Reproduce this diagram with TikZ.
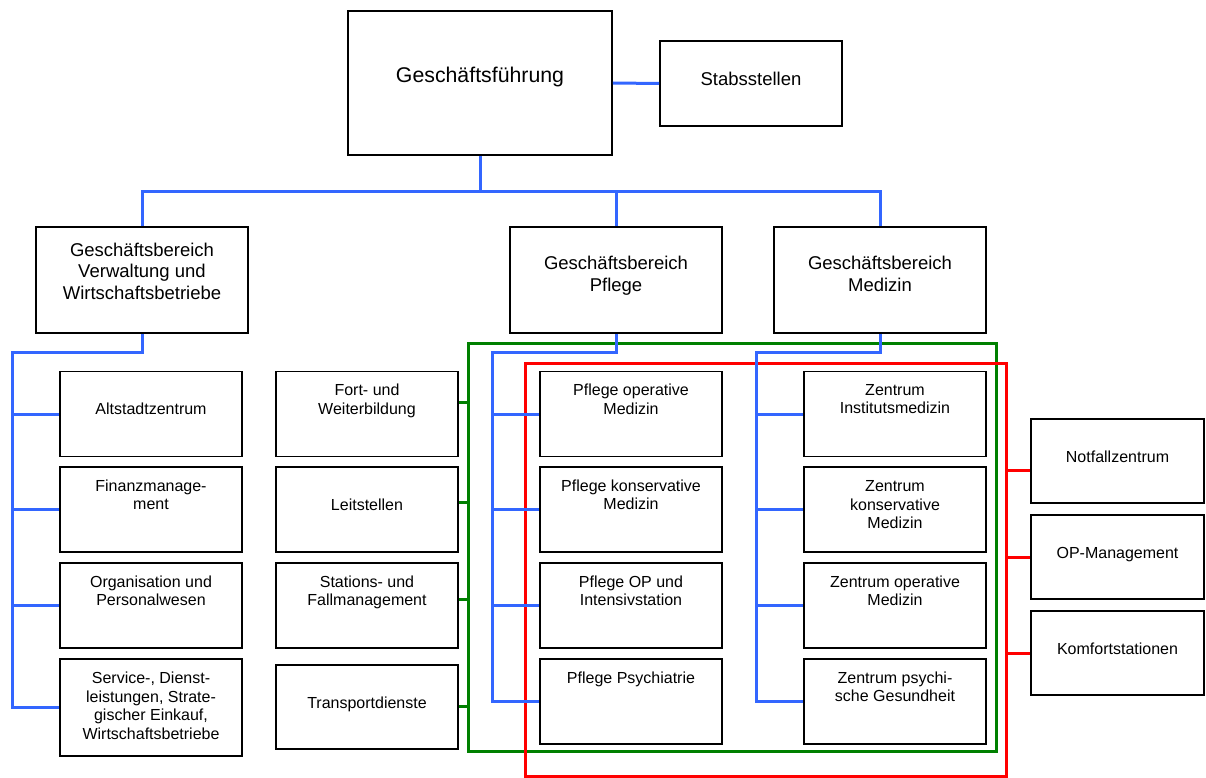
\documentclass[tikz,border=0pt]{standalone}
\usepackage{fontspec}
\setmainfont{Liberation Sans}
\usetikzlibrary{calc}
\definecolor{cblue}{RGB}{51,102,255}
\definecolor{cgreen}{RGB}{0,128,0}
\definecolor{cred}{RGB}{255,0,0}
\newcommand\bt[3]{\node[tS] (#1t) at ($(#1.north)+(0,#2)$) {#3};}
\newcommand\btm[3]{\node[tM] (#1t) at ($(#1.north)+(0,#2)$) {#3};}
\begin{document}
\begin{tikzpicture}[x=1pt,y=-1pt,
  bx/.style={draw=black, line width=1.8pt, fill=white, inner sep=0pt, minimum width=182pt, minimum height=85pt},
  tS/.style={anchor=north, inner sep=0pt, align=center, text=black, font=\fontsize{16}{18.5}\selectfont},
  tM/.style={anchor=north, inner sep=0pt, align=center, text=black, font=\fontsize{18.5}{21.5}\selectfont},
  tL/.style={anchor=north, inner sep=0pt, align=center, text=black, font=\fontsize{21.3}{25}\selectfont},
  bl/.style={draw=cblue, line width=3pt},
  gr/.style={draw=cgreen, line width=3pt},
  rd/.style={draw=cred, line width=3pt},
  frame/.style={line width=3pt, inner sep=0pt, fill=none}]
\useasboundingbox (0,0) rectangle (1206,778);

% frames
\node[frame, draw=cgreen, minimum width=528pt, minimum height=408pt] (gfr) at (732,547) {};
\node[frame, draw=cred, minimum width=481pt, minimum height=413pt] (rfr) at (765.5,569.5) {};

% top level
\node[bx, minimum width=264pt, minimum height=144pt] (gf) at (480,83) {};
\node[tL] (gft) at ($(gf.north)+(0,56.7)$) {Geschäftsführung};
\node[bx, minimum width=182pt, minimum height=85pt] (st) at (751,83.5) {};
\btm{st}{32}{Stabsstellen}

\node[bx, minimum width=212pt, minimum height=106pt] (vw) at (142,280) {};
\btm{vw}{16.6}{Geschäftsbereich\\Verwaltung und\\Wirtschaftsbetriebe}
\node[bx, minimum width=212pt, minimum height=106pt] (pf) at (616,280) {};
\btm{pf}{30}{Geschäftsbereich\\Pflege}
\node[bx, minimum width=212pt, minimum height=106pt] (md) at (880,280) {};
\btm{md}{30}{Geschäftsbereich\\Medizin}

% column A
\node[bx] (a1) at (151,414) {};
\bt{a1}{32}{Altstadtzentrum}
\node[bx] (a2) at (151,509.5) {};
\bt{a2}{13.5}{Finanzmanage-\\ment}
\node[bx] (a3) at (151,605.5) {};
\bt{a3}{13.5}{Organisation und\\Personalwesen}
\node[bx, minimum height=97pt] (a4) at (151,707.5) {};
\bt{a4}{14}{Service-, Dienst-\\leistungen, Strate-\\gischer Einkauf,\\Wirtschaftsbetriebe}

% column M
\node[bx] (m1) at (367,414) {};
\bt{m1}{13.5}{Fort- und\\Weiterbildung}
\node[bx] (m2) at (367,509.5) {};
\bt{m2}{32.5}{Leitstellen}
\node[bx] (m3) at (367,605.5) {};
\bt{m3}{13.5}{Stations- und\\Fallmanagement}
\node[bx, minimum height=84pt] (m4) at (367,707) {};
\bt{m4}{32.3}{Transportdienste}

% column P
\node[bx] (p1) at (631,414) {};
\bt{p1}{13.5}{Pflege operative\\Medizin}
\node[bx] (p2) at (631,509.5) {};
\bt{p2}{13.5}{Pflege konservative\\Medizin}
\node[bx] (p3) at (631,605.5) {};
\bt{p3}{13.5}{Pflege OP und\\Intensivstation}
\node[bx] (p4) at (631,701.5) {};
\bt{p4}{14}{Pflege Psychiatrie}

% column Z
\node[bx] (z1) at (895,414) {};
\bt{z1}{13.5}{Zentrum\\Institutsmedizin}
\node[bx] (z2) at (895,509.5) {};
\bt{z2}{14.5}{Zentrum\\konservative\\Medizin}
\node[bx] (z3) at (895,605.5) {};
\bt{z3}{13.5}{Zentrum operative\\Medizin}
\node[bx] (z4) at (895,701.5) {};
\bt{z4}{13.5}{Zentrum psychi-\\sche Gesundheit}

% right column
\node[bx, minimum width=173pt, minimum height=84pt] (r1) at (1117.5,461) {};
\bt{r1}{33}{Notfallzentrum}
\node[bx, minimum width=173pt, minimum height=84pt] (r2) at (1117.5,557) {};
\bt{r2}{33}{OP-Management}
\node[bx, minimum width=173pt, minimum height=84pt] (r3) at (1117.5,653) {};
\bt{r3}{33}{Komfortstationen}

% blue connectors
\coordinate (bus) at (480,191);
\draw[bl] (gf.east) -- (st.west);
\draw[bl] (gf.south) -- (bus);
\draw[bl] (vw.north) |- (bus) -| (md.north);
\draw[bl] (pf.north) -- (pf.north |- bus);

\coordinate (lt) at (12,352);
\draw[bl] (vw.south) |- (lt) |- (a4.west);
\foreach \i in {1,2,3} \draw[bl] (lt |- a\i.west) -- (a\i.west);

\coordinate (pt) at (492,352);
\draw[bl] (pf.south) |- (pt) |- (p4.west);
\foreach \i in {1,2,3} \draw[bl] (pt |- p\i.west) -- (p\i.west);

\coordinate (mt) at (756,352);
\draw[bl] (md.south) |- (mt) |- (z4.west);
\foreach \i in {1,2,3} \draw[bl] (mt |- z\i.west) -- (z\i.west);

% green connectors
\draw[gr] ($(m1.east)+(0,-12)$) coordinate (g1) -- (g1 -| gfr.west);
\draw[gr] ($(m2.east)+(0,-7)$) coordinate (g2) -- (g2 -| gfr.west);
\draw[gr] ($(m3.east)+(0,-6)$) coordinate (g3) -- (g3 -| gfr.west);
\draw[gr] ($(m4.east)+(0,-1)$) coordinate (g4) -- (g4 -| gfr.west);

% red connectors
\draw[rd] ($(r1.west)+(0,9)$) coordinate (q1) -- (q1 -| rfr.east);
\draw[rd] (r2.west) -- (r2.west -| rfr.east);
\draw[rd] (r3.west) -- (r3.west -| rfr.east);
\end{tikzpicture}
\end{document}
